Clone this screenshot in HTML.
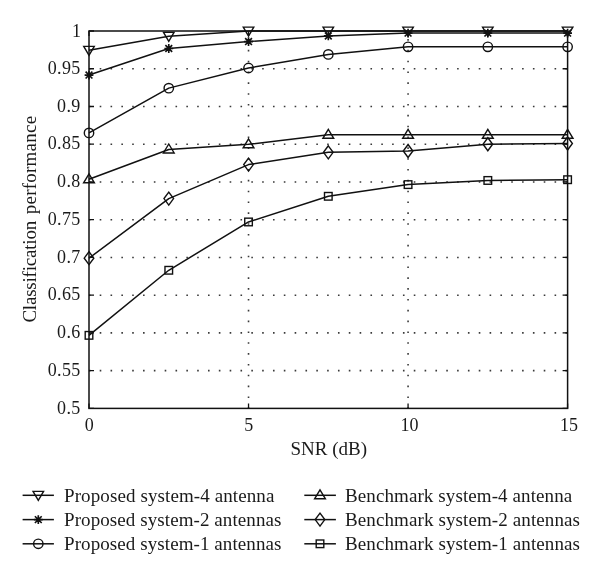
<!DOCTYPE html>
<html><head><meta charset="utf-8"><style>
html,body{margin:0;padding:0;background:#fff;}
svg{display:block;will-change:transform;}
text{font-family:"Liberation Serif",serif;fill:#1a1a1a;}
</style></head><body>
<svg width="600" height="575" viewBox="0 0 600 575">
<rect width="600" height="575" fill="#fff"/>
<path d="M88.87,370.66 L567.60,370.66 M88.87,332.92 L567.60,332.92 M88.87,295.18 L567.60,295.18 M88.87,257.44 L567.60,257.44 M88.87,219.70 L567.60,219.70 M88.87,181.96 L567.60,181.96 M88.87,144.22 L567.60,144.22 M88.87,106.48 L567.60,106.48 M88.87,68.74 L567.60,68.74 M248.53,408.85 L248.53,31.00 M408.07,408.85 L408.07,31.00" stroke="#3a3a3a" stroke-width="1.6" stroke-dasharray="1.6 9.23" fill="none"/>
<polyline points="89.00,50.25 168.77,36.28 248.53,31.00 328.30,31.00 408.07,31.00 487.83,31.00 567.60,31.00" stroke="#111" stroke-width="1.5" fill="none" stroke-linejoin="round"/>
<polyline points="89.00,75.08 168.77,48.51 248.53,41.57 328.30,35.91 408.07,33.11 487.83,33.11 567.60,33.11" stroke="#111" stroke-width="1.5" fill="none" stroke-linejoin="round"/>
<polyline points="89.00,132.90 168.77,88.14 248.53,67.99 328.30,54.40 408.07,46.85 487.83,46.85 567.60,46.85" stroke="#111" stroke-width="1.5" fill="none" stroke-linejoin="round"/>
<polyline points="89.00,179.32 168.77,149.50 248.53,144.30 328.30,134.78 408.07,134.78 487.83,134.78 567.60,134.78" stroke="#111" stroke-width="1.5" fill="none" stroke-linejoin="round"/>
<polyline points="89.00,258.19 168.77,198.57 248.53,164.60 328.30,152.30 408.07,151.01 487.83,144.22 567.60,143.47" stroke="#111" stroke-width="1.5" fill="none" stroke-linejoin="round"/>
<polyline points="89.00,335.34 168.77,270.27 248.53,221.96 328.30,196.30 408.07,184.60 487.83,180.45 567.60,179.70" stroke="#111" stroke-width="1.5" fill="none" stroke-linejoin="round"/>
<g stroke="#111" stroke-width="1.4" fill="none">
<path d="M83.75,46.35 L94.25,46.35 L89.00,55.25 Z" fill="none"/>
<path d="M163.52,32.38 L174.02,32.38 L168.77,41.28 Z" fill="none"/>
<path d="M243.28,27.10 L253.78,27.10 L248.53,36.00 Z" fill="none"/>
<path d="M323.05,27.10 L333.55,27.10 L328.30,36.00 Z" fill="none"/>
<path d="M402.82,27.10 L413.32,27.10 L408.07,36.00 Z" fill="none"/>
<path d="M482.58,27.10 L493.08,27.10 L487.83,36.00 Z" fill="none"/>
<path d="M562.35,27.10 L572.85,27.10 L567.60,36.00 Z" fill="none"/>
<path d="M89.00,70.68 L89.00,79.48 M84.60,75.08 L93.40,75.08 M85.61,71.69 L92.39,78.47 M85.61,78.47 L92.39,71.69" fill="none" stroke-width="1.65"/>
<path d="M168.77,44.11 L168.77,52.91 M164.37,48.51 L173.17,48.51 M165.37,45.12 L172.16,51.91 M165.37,51.91 L172.16,45.12" fill="none" stroke-width="1.65"/>
<path d="M248.53,37.17 L248.53,45.97 M244.13,41.57 L252.93,41.57 M245.14,38.17 L251.93,44.96 M245.14,44.96 L251.93,38.17" fill="none" stroke-width="1.65"/>
<path d="M328.30,31.51 L328.30,40.31 M323.90,35.91 L332.70,35.91 M324.91,32.51 L331.69,39.30 M324.91,39.30 L331.69,32.51" fill="none" stroke-width="1.65"/>
<path d="M408.07,28.71 L408.07,37.51 M403.67,33.11 L412.47,33.11 M404.67,29.72 L411.46,36.51 M404.67,36.51 L411.46,29.72" fill="none" stroke-width="1.65"/>
<path d="M487.83,28.71 L487.83,37.51 M483.43,33.11 L492.23,33.11 M484.44,29.72 L491.23,36.51 M484.44,36.51 L491.23,29.72" fill="none" stroke-width="1.65"/>
<path d="M567.60,28.71 L567.60,37.51 M563.20,33.11 L572.00,33.11 M564.21,29.72 L570.99,36.51 M564.21,36.51 L570.99,29.72" fill="none" stroke-width="1.65"/>
<circle cx="89.00" cy="132.90" r="4.70" fill="none"/>
<circle cx="168.77" cy="88.14" r="4.70" fill="none"/>
<circle cx="248.53" cy="67.99" r="4.70" fill="none"/>
<circle cx="328.30" cy="54.40" r="4.70" fill="none"/>
<circle cx="408.07" cy="46.85" r="4.70" fill="none"/>
<circle cx="487.83" cy="46.85" r="4.70" fill="none"/>
<circle cx="567.60" cy="46.85" r="4.70" fill="none"/>
<path d="M83.60,182.82 L94.40,182.82 L89.00,173.82 Z" fill="none"/>
<path d="M163.37,153.00 L174.17,153.00 L168.77,144.00 Z" fill="none"/>
<path d="M243.13,147.80 L253.93,147.80 L248.53,138.80 Z" fill="none"/>
<path d="M322.90,138.28 L333.70,138.28 L328.30,129.28 Z" fill="none"/>
<path d="M402.67,138.28 L413.47,138.28 L408.07,129.28 Z" fill="none"/>
<path d="M482.43,138.28 L493.23,138.28 L487.83,129.28 Z" fill="none"/>
<path d="M562.20,138.28 L573.00,138.28 L567.60,129.28 Z" fill="none"/>
<path d="M89.00,251.69 L93.80,258.19 L89.00,264.69 L84.20,258.19 Z" fill="none"/>
<path d="M168.77,192.07 L173.57,198.57 L168.77,205.07 L163.97,198.57 Z" fill="none"/>
<path d="M248.53,158.10 L253.33,164.60 L248.53,171.10 L243.73,164.60 Z" fill="none"/>
<path d="M328.30,145.80 L333.10,152.30 L328.30,158.80 L323.50,152.30 Z" fill="none"/>
<path d="M408.07,144.51 L412.87,151.01 L408.07,157.51 L403.27,151.01 Z" fill="none"/>
<path d="M487.83,137.72 L492.63,144.22 L487.83,150.72 L483.03,144.22 Z" fill="none"/>
<path d="M567.60,136.97 L572.40,143.47 L567.60,149.97 L562.80,143.47 Z" fill="none"/>
<rect x="85.20" y="331.54" width="7.60" height="7.60" fill="none"/>
<rect x="164.97" y="266.47" width="7.60" height="7.60" fill="none"/>
<rect x="244.73" y="218.16" width="7.60" height="7.60" fill="none"/>
<rect x="324.50" y="192.50" width="7.60" height="7.60" fill="none"/>
<rect x="404.27" y="180.80" width="7.60" height="7.60" fill="none"/>
<rect x="484.03" y="176.65" width="7.60" height="7.60" fill="none"/>
<rect x="563.80" y="175.90" width="7.60" height="7.60" fill="none"/>
</g>
<path d="M89.00,408.40 L94.00,408.40 M567.60,408.40 L562.60,408.40 M89.00,370.66 L94.00,370.66 M567.60,370.66 L562.60,370.66 M89.00,332.92 L94.00,332.92 M567.60,332.92 L562.60,332.92 M89.00,295.18 L94.00,295.18 M567.60,295.18 L562.60,295.18 M89.00,257.44 L94.00,257.44 M567.60,257.44 L562.60,257.44 M89.00,219.70 L94.00,219.70 M567.60,219.70 L562.60,219.70 M89.00,181.96 L94.00,181.96 M567.60,181.96 L562.60,181.96 M89.00,144.22 L94.00,144.22 M567.60,144.22 L562.60,144.22 M89.00,106.48 L94.00,106.48 M567.60,106.48 L562.60,106.48 M89.00,68.74 L94.00,68.74 M567.60,68.74 L562.60,68.74 M89.00,31.00 L94.00,31.00 M567.60,31.00 L562.60,31.00 M89.00,408.40 L89.00,403.40 M89.00,31.00 L89.00,36.00 M248.53,408.40 L248.53,403.40 M248.53,31.00 L248.53,36.00 M408.07,408.40 L408.07,403.40 M408.07,31.00 L408.07,36.00 M567.60,408.40 L567.60,403.40 M567.60,31.00 L567.60,36.00" stroke="#111" stroke-width="1.3" fill="none"/>
<rect x="89.00" y="31.00" width="478.60" height="377.40" stroke="#111" stroke-width="1.5" fill="none"/>
<text x="81.40" y="36.60" font-size="18" text-anchor="end" letter-spacing="0.35">1</text>
<text x="80.60" y="73.84" font-size="18" text-anchor="end" letter-spacing="0.35">0.95</text>
<text x="80.60" y="111.58" font-size="18" text-anchor="end" letter-spacing="0.35">0.9</text>
<text x="80.60" y="149.32" font-size="18" text-anchor="end" letter-spacing="0.35">0.85</text>
<text x="80.60" y="187.06" font-size="18" text-anchor="end" letter-spacing="0.35">0.8</text>
<text x="80.60" y="224.80" font-size="18" text-anchor="end" letter-spacing="0.35">0.75</text>
<text x="80.60" y="262.54" font-size="18" text-anchor="end" letter-spacing="0.35">0.7</text>
<text x="80.60" y="300.28" font-size="18" text-anchor="end" letter-spacing="0.35">0.65</text>
<text x="80.60" y="338.02" font-size="18" text-anchor="end" letter-spacing="0.35">0.6</text>
<text x="80.60" y="375.76" font-size="18" text-anchor="end" letter-spacing="0.35">0.55</text>
<text x="80.60" y="413.50" font-size="18" text-anchor="end" letter-spacing="0.35">0.5</text>
<text x="89.20" y="430.7" font-size="18" text-anchor="middle">0</text>
<text x="248.73" y="430.7" font-size="18" text-anchor="middle">5</text>
<text x="409.57" y="430.7" font-size="18" text-anchor="middle">10</text>
<text x="569.10" y="430.7" font-size="18" text-anchor="middle">15</text>
<text x="328.7" y="455" font-size="19" text-anchor="middle">SNR (dB)</text>
<text transform="translate(35.8,322.6) rotate(-90)" x="0" y="0" font-size="19" textLength="101.8" lengthAdjust="spacing">Classification</text>
<text transform="translate(35.8,214.2) rotate(-90)" x="0" y="0" font-size="19" textLength="98.3" lengthAdjust="spacing">performance</text>
<path d="M22.6,495.3 L53.9,495.3" stroke="#111" stroke-width="1.5"/>
<g stroke="#111" stroke-width="1.4" fill="none"><path d="M33.05,491.40 L43.55,491.40 L38.30,500.30 Z" fill="none"/></g>
<text x="64.0" y="502.1" font-size="19" textLength="210.4" lengthAdjust="spacing">Proposed system-4 antenna</text>
<path d="M22.6,519.6 L53.9,519.6" stroke="#111" stroke-width="1.5"/>
<g stroke="#111" stroke-width="1.4" fill="none"><path d="M38.30,515.20 L38.30,524.00 M33.90,519.60 L42.70,519.60 M34.91,516.21 L41.69,522.99 M34.91,522.99 L41.69,516.21" fill="none" stroke-width="1.65"/></g>
<text x="64.0" y="526.3" font-size="19" textLength="217.4" lengthAdjust="spacing">Proposed system-2 antennas</text>
<path d="M22.6,543.8 L53.9,543.8" stroke="#111" stroke-width="1.5"/>
<g stroke="#111" stroke-width="1.4" fill="none"><circle cx="38.30" cy="543.80" r="4.70" fill="none"/></g>
<text x="64.0" y="550.3" font-size="19" textLength="217.4" lengthAdjust="spacing">Proposed system-1 antennas</text>
<path d="M304.3,495.3 L335.9,495.3" stroke="#111" stroke-width="1.5"/>
<g stroke="#111" stroke-width="1.4" fill="none"><path d="M314.60,498.80 L325.40,498.80 L320.00,489.80 Z" fill="none"/></g>
<text x="345.0" y="502.1" font-size="19" textLength="227.2" lengthAdjust="spacing">Benchmark system-4 antenna</text>
<path d="M304.3,519.6 L335.9,519.6" stroke="#111" stroke-width="1.5"/>
<g stroke="#111" stroke-width="1.4" fill="none"><path d="M320.00,513.10 L324.80,519.60 L320.00,526.10 L315.20,519.60 Z" fill="none"/></g>
<text x="345.0" y="526.3" font-size="19" textLength="235.0" lengthAdjust="spacing">Benchmark system-2 antennas</text>
<path d="M304.3,543.8 L335.9,543.8" stroke="#111" stroke-width="1.5"/>
<g stroke="#111" stroke-width="1.4" fill="none"><rect x="316.20" y="540.00" width="7.60" height="7.60" fill="none"/></g>
<text x="345.0" y="550.3" font-size="19" textLength="235.0" lengthAdjust="spacing">Benchmark system-1 antennas</text>
</svg></body></html>
